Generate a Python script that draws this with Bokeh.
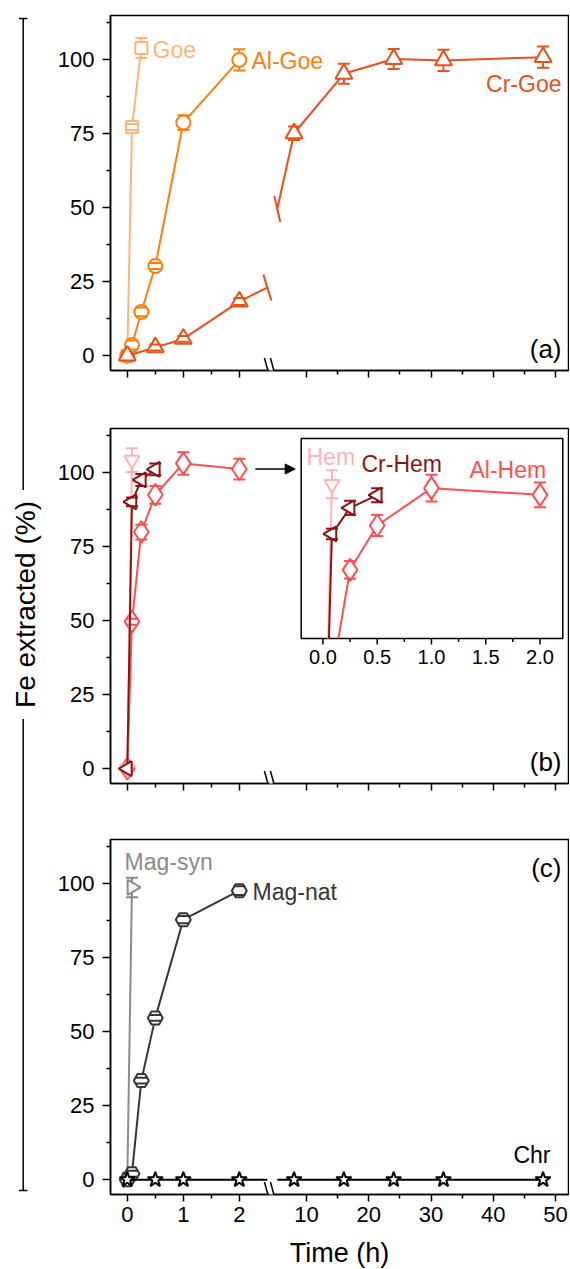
import numpy as np
from bokeh.plotting import figure
from bokeh.models import Range1d, FixedTicker, CustomJSTickFormatter, Arrow, NormalHead
from bokeh.layouts import row, column
from bokeh.embed import file_html
from bokeh.resources import INLINE
from bokeh.core.properties import value

FONT = "Liberation Sans"

# ---------------- data ----------------
# panel (a): goethites
goe_t = [0, 0.083, 0.25]
goe_v = [0, 77.3, 104.0]
goe_e = [0, 1.0, 3.4]
algoe_t = [0, 0.083, 0.25, 0.5, 1, 2]
algoe_v = [0, 3.6, 14.8, 30.3, 78.8, 100.0]
algoe_e = [0, 1.5, 1.5, 1.0, 2.5, 3.6]
crgoe_t = [0, 0.5, 1, 2, 8, 16, 24, 32, 48]
crgoe_v = [0, 2.8, 5.7, 18.3, 75.2, 95.3, 100.3, 99.8, 100.9]
crgoe_e = [0, 1.0, 1.0, 1.2, 2.3, 3.4, 3.4, 3.6, 3.6]
# panel (b): hematites
hem_t = [0, 0.083]
hem_v = [0, 104.3]
hem_e = [0, 4.0]
crhem_t = [0, 0.083, 0.25, 0.5]
crhem_v = [0, 90.2, 97.6, 101.2]
crhem_e = [0, 1.5, 2.0, 2.0]
alhem_t = [0, 0.083, 0.25, 0.5, 1, 2]
alhem_v = [0, 49.7, 80.0, 92.6, 103.2, 101.3]
alhem_e = [0, 1.0, 2.5, 3.0, 3.8, 3.5]
# panel (c): magnetites, chromite
magsyn_t = [0, 0.083]
magsyn_v = [0, 98.8]
magsyn_e = [0, 3.3]
magnat_t = [0, 0.083, 0.25, 0.5, 1, 2]
magnat_v = [0, 2.0, 33.5, 54.7, 87.9, 97.7]
magnat_e = [0, 1.0, 1.0, 1.0, 1.2, 1.5]
chr_t = [0, 0.5, 1, 2, 8, 16, 24, 32, 48]
chr_v = [0, 0, 0, 0, 0, 0, 0, 0, 0]
chr_e = [0, 0, 0, 0, 0, 0, 0, 0, 0]

y_ticks = [0, 25, 50, 75, 100]
y_minor = [12.5, 37.5, 62.5, 87.5, 112.5]
x_left_ticks = [0, 1, 2]
x_left_minor = [0.5, 1.5]
x_right_ticks = [10, 20, 30, 40, 50]
x_right_minor = [15, 25, 35, 45]
inset_ticks = [0, 0.5, 1.0, 1.5, 2.0]
inset_minor = [0.25, 0.75, 1.25, 1.75]

C_GOE, C_ALGOE, C_CRGOE = "#FDB67A", "#FF7F0A", "#E8501C"
C_HEM, C_CRHEM, C_ALHEM = "#FFB3B3", "#8E1414", "#FF4F52"
C_MAGSYN, C_MAGNAT, C_CHR = "#8C8C8C", "#363636", "#000000"

# ---------------- layout constants ----------------
FW, FH = 458, 355
KL = 56.0
X0 = -0.3
XE = X0 + FW / KL
R_START, R_END = -21.49, 52.09
KR = FW / (R_END - R_START)
L_END, R_BEGIN = 2.5, 5.3
Y0, Y1 = -5.0, 115.0
KY = FH / (Y1 - Y0)
FRAME_LEFT = 110
TOPS = {"a": 15, "b": 428, "c": 839}
BREAK_OFFS = (157.5, 163.5)
LW = 2
BORDERS = {"a": (15, 30), "b": (28, 28), "c": (28, 75)}

INSET_PX = (190.7, 452.3, 10.0, 210.0)
INSET_X = (-0.2, 2.21)
INSET_Y = (60.5, 117.3)
KIX = (INSET_PX[1] - INSET_PX[0]) / (INSET_X[1] - INSET_X[0])
KIY = (INSET_PX[3] - INSET_PX[2]) / (INSET_Y[1] - INSET_Y[0])


def to_main(tr):
    return [float(X0 + (t - R_START) / (R_END - R_START) * (XE - X0)) for t in tr]


def px_x(px):
    return X0 + (px - FRAME_LEFT) / KL


def px_y(py, panel):
    return Y1 - (py - TOPS[panel]) / KY


def make_panel(panel, show_labels):
    top, bottom = BORDERS[panel]
    p = figure(frame_width=FW, frame_height=FH, x_range=Range1d(X0, XE), y_range=Range1d(Y0, Y1),
               output_backend="svg", toolbar_location=None,
               min_border_left=62, min_border_right=1, min_border_top=top, min_border_bottom=bottom)
    p.extra_x_ranges = {"r": Range1d(R_START, R_END)}
    p.grid.visible = False
    p.outline_line_color = "black"
    p.outline_line_width = 1.5
    xax, yax = p.xaxis[0], p.yaxis[0]
    yax.ticker = FixedTicker(ticks=y_ticks, minor_ticks=y_minor)
    xax.ticker = FixedTicker(ticks=[float(t) for t in x_left_ticks] + to_main(x_right_ticks),
                             minor_ticks=[float(t) for t in x_left_minor] + to_main(x_right_minor))
    xax.formatter = CustomJSTickFormatter(
        args=dict(split=L_END, x0=X0, xe=XE, rs=R_START, re=R_END),
        code="""
        if (tick <= split) { return tick.toFixed(0); }
        const t = rs + (tick - x0) * (re - rs) / (xe - x0);
        return Math.round(t).toFixed(0);
        """)
    for ax in (xax, yax):
        ax.axis_line_width = 1.5
        ax.major_tick_line_width = 1.5
        ax.minor_tick_line_width = 1.5
        ax.major_tick_in = 0
        ax.minor_tick_in = 0
        ax.major_tick_out = 8
        ax.minor_tick_out = 4
        ax.major_label_text_font = FONT
        ax.major_label_text_font_size = "22px"
        ax.major_label_text_color = "black"
        ax.major_label_standoff = 8
    xax.major_tick_out = 7
    xax.major_label_standoff = 5
    if not show_labels:
        xax.major_label_text_color = None
    # axis break marks
    p.add_layout(Arrow(x_start=X0 + (BREAK_OFFS[0] + 1.3) / KL, y_start=Y0,
                       x_end=X0 + (BREAK_OFFS[1] - 1.3) / KL, y_end=Y0,
                       start=None, end=None, line_width=4, line_color="white"))
    for off in BREAK_OFFS:
        xc = X0 + off / KL
        p.add_layout(Arrow(x_start=xc - 3.6 / KL, y_start=Y0 + 12.5 / KY,
                           x_end=xc + 3.6 / KL, y_end=Y0 - 13 / KY,
                           start=None, end=None, line_width=1.5, line_color="black"))
    return p


def draw(p, t, v, e, color, marker, size, angle=0.0, break_ticks=False, cap=12):
    t = np.asarray(t, float)
    v = np.asarray(v, float)
    e = np.asarray(e, float)
    lm = t <= L_END
    rm = t >= R_BEGIN
    lt, lv = list(t[lm]), list(v[lm])
    if rm.any():
        yl = float(np.interp(L_END, t, v))
        yr = float(np.interp(R_BEGIN, t, v))
        lt.append(L_END)
        lv.append(yl)
        rt = [R_BEGIN] + list(t[rm])
        rv = [yr] + list(v[rm])
        p.line(rt, rv, line_color=color, line_width=LW, x_range_name="r")
        if break_ticks:
            p.segment(x0=[L_END - 4 / KL], y0=[yl + 13 / KY], x1=[L_END + 4 / KL], y1=[yl - 13 / KY],
                      line_color=color, line_width=LW)
            p.segment(x0=[R_BEGIN - 3 / KR], y0=[yr + 13 / KY], x1=[R_BEGIN + 3 / KR], y1=[yr - 13 / KY],
                      line_color=color, line_width=LW, x_range_name="r")
    p.line(lt, lv, line_color=color, line_width=LW)
    for mask, rn in ((lm, "default"), (rm, "r")):
        if not mask.any():
            continue
        tt, vv, ee = t[mask], v[mask], e[mask]
        h = ee > 0
        if h.any():
            p.segment(x0=tt[h], y0=vv[h] - ee[h], x1=tt[h], y1=vv[h] + ee[h],
                      line_color=color, line_width=LW, x_range_name=rn)
        p.scatter(tt, vv, marker=marker, size=size, angle=angle, fill_color="white",
                  line_color=color, line_width=LW, x_range_name=rn)
        if h.any():
            for sgn in (1, -1):
                p.scatter(tt[h], vv[h] + sgn * ee[h], marker="dash", size=cap,
                          line_color=color, line_width=LW, x_range_name=rn)


def clip_bottom(t, v, ymin):
    xs, ys = [], []
    for i in range(len(t)):
        if v[i] >= ymin:
            if i > 0 and v[i - 1] < ymin:
                f = (ymin - v[i - 1]) / (v[i] - v[i - 1])
                xs.append(t[i - 1] + f * (t[i] - t[i - 1]))
                ys.append(ymin)
            xs.append(t[i])
            ys.append(v[i])
    return xs, ys


def draw_inset(p, t, v, e, color, marker, size, angle=0.0, cap=12):
    t = np.asarray(t, float)
    v = np.asarray(v, float)
    e = np.asarray(e, float)
    xs, ys = clip_bottom(t, v, INSET_Y[0])
    p.line(xs, ys, line_color=color, line_width=LW, x_range_name="ix", y_range_name="iy")
    m = v >= INSET_Y[0]
    tt, vv, ee = t[m], v[m], e[m]
    p.segment(x0=tt, y0=vv - ee, x1=tt, y1=vv + ee, line_color=color, line_width=LW,
              x_range_name="ix", y_range_name="iy")
    p.scatter(tt, vv, marker=marker, size=size, angle=angle, fill_color="white",
              line_color=color, line_width=LW, x_range_name="ix", y_range_name="iy")
    for sgn in (1, -1):
        p.scatter(tt, vv + sgn * ee, marker="dash", size=cap, line_color=color, line_width=LW,
                  x_range_name="ix", y_range_name="iy")


def label(p, panel, txt, px, py, color, size="23px", align="left"):
    p.text(x=[px_x(px)], y=[px_y(py, panel)], text=[txt], text_font=value(FONT),
           text_font_size=value(size), text_color=color, text_align=align, text_baseline="middle")


# ---------------- panel (a) ----------------
pa = make_panel("a", False)
draw(pa, goe_t, goe_v, goe_e, C_GOE, "square", 12)
draw(pa, algoe_t, algoe_v, algoe_e, C_ALGOE, "circle", 14)
draw(pa, crgoe_t, crgoe_v, crgoe_e, C_CRGOE, "triangle", 17, break_ticks=True)
label(pa, "a", "Goe", 152, 49, C_GOE)
label(pa, "a", "Al-Goe", 251, 60, C_ALGOE)
label(pa, "a", "Cr-Goe", 561, 83, C_CRGOE, align="right")
label(pa, "a", "(a)", 561, 348, "black", size="26px", align="right")

# ---------------- panel (b) ----------------
pb = make_panel("b", False)
draw(pb, alhem_t, alhem_v, alhem_e, C_ALHEM, "diamond", 22)
draw(pb, hem_t, hem_v, hem_e, C_HEM, "inverted_triangle", 15)
draw(pb, crhem_t, crhem_v, crhem_e, C_CRHEM, "triangle", 15, angle=np.pi / 2)
label(pb, "b", "(b)", 561, 761, "black", size="26px", align="right")

pb.extra_x_ranges["ix"] = Range1d(INSET_X[0] - INSET_PX[0] / KIX, INSET_X[1] + (FW - INSET_PX[1]) / KIX)
pb.extra_y_ranges = {"iy": Range1d(INSET_Y[0] - (FH - INSET_PX[3]) / KIY, INSET_Y[1] + INSET_PX[2] / KIY)}
pb.quad(left=[INSET_X[0]], right=[INSET_X[1]], bottom=[INSET_Y[0]], top=[INSET_Y[1]],
        fill_color="white", line_color="black", line_width=1.5, x_range_name="ix", y_range_name="iy")
pb.segment(x0=inset_ticks, y0=[INSET_Y[0]] * len(inset_ticks), x1=inset_ticks,
           y1=[INSET_Y[0] - 6 / KIY] * len(inset_ticks), line_color="black", line_width=1.5,
           x_range_name="ix", y_range_name="iy")
pb.segment(x0=inset_minor, y0=[INSET_Y[0]] * len(inset_minor), x1=inset_minor,
           y1=[INSET_Y[0] - 3.5 / KIY] * len(inset_minor), line_color="black", line_width=1.5,
           x_range_name="ix", y_range_name="iy")
pb.text(x=inset_ticks, y=[INSET_Y[0] - 11 / KIY] * len(inset_ticks),
        text=[f"{t:.1f}" for t in inset_ticks], text_font=value(FONT), text_font_size=value("20px"),
        text_color="black", text_align="center", text_baseline="top",
        x_range_name="ix", y_range_name="iy")
draw_inset(pb, alhem_t, alhem_v, alhem_e, C_ALHEM, "diamond", 22)
draw_inset(pb, hem_t, hem_v, hem_e, C_HEM, "inverted_triangle", 15)
draw_inset(pb, crhem_t, crhem_v, crhem_e, C_CRHEM, "triangle", 15, angle=np.pi / 2)
label(pb, "b", "Hem", 306, 456, C_HEM)
label(pb, "b", "Cr-Hem", 361, 463, C_CRHEM)
label(pb, "b", "Al-Hem", 469, 469, C_ALHEM)
pb.add_layout(Arrow(x_start=alhem_t[-1] + 16 / KL, y_start=alhem_v[-1],
                    x_end=X0 + (INSET_PX[0] - 6) / KL, y_end=alhem_v[-1],
                    end=NormalHead(size=10, fill_color="black", line_color="black"),
                    line_width=1.5, line_color="black"))

# ---------------- panel (c) ----------------
pc = make_panel("c", True)
pc.xaxis[0].axis_label = "Time (h)"
pc.xaxis[0].axis_label_text_font = FONT
pc.xaxis[0].axis_label_text_font_size = "27px"
pc.xaxis[0].axis_label_text_font_style = "normal"
pc.xaxis[0].axis_label_text_color = "black"
pc.xaxis[0].axis_label_standoff = 13
draw(pc, magsyn_t, magsyn_v, magsyn_e, C_MAGSYN, "triangle", 15, angle=-np.pi / 2)
draw(pc, magnat_t, magnat_v, magnat_e, C_MAGNAT, "hex", 15)
draw(pc, chr_t, chr_v, chr_e, C_CHR, "star", 16)
label(pc, "c", "Mag-syn", 124, 861, C_MAGSYN)
label(pc, "c", "Mag-nat", 252, 891, C_MAGNAT)
label(pc, "c", "(c)", 561, 867, "black", size="26px", align="right")
label(pc, "c", "Chr", 550, 1154, C_CHR, align="right")

# ---------------- shared y label with bracket ----------------
H_TOTAL = sum(BORDERS[k][0] + FH + BORDERS[k][1] for k in "abc")
LW_FIG = 48
pl = figure(frame_width=LW_FIG, frame_height=H_TOTAL, x_range=Range1d(0, LW_FIG),
            y_range=Range1d(0, H_TOTAL), output_backend="svg", toolbar_location=None,
            x_axis_location=None, y_axis_location=None, min_border=0)
pl.grid.visible = False
pl.outline_line_color = None


def ly(py):
    return H_TOTAL - py


BR_X = 22.7
BR_TOP, BR_BOT = 18, 1190
TXT_C = (BR_TOP + BR_BOT) / 2
TXT_HALF = 7.391 * 28 / 2 + 11
pl.segment(x0=[BR_X, BR_X, BR_X - 4.2, BR_X - 4.2], y0=[ly(BR_TOP), ly(TXT_C + TXT_HALF), ly(BR_TOP), ly(BR_BOT)],
           x1=[BR_X, BR_X, BR_X + 4.2, BR_X + 4.2], y1=[ly(TXT_C - TXT_HALF), ly(BR_BOT), ly(BR_TOP), ly(BR_BOT)],
           line_color="black", line_width=1.5)
pl.text(x=[24.5], y=[ly(TXT_C)], text=["Fe extracted (%)"], angle=np.pi / 2,
        text_font=value(FONT), text_font_size=value("28px"), text_color="black",
        text_align="center", text_baseline="middle")

layout = row(pl, column(pa, pb, pc))
open("out.html", "w").write(file_html(layout, INLINE))
